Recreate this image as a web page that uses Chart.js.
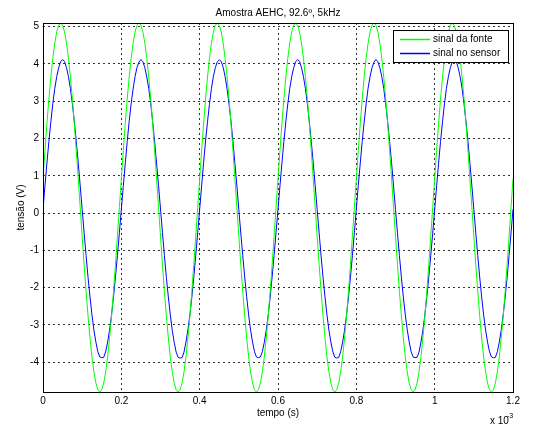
<!DOCTYPE html>
<html><head><meta charset="utf-8">
<script src="https://cdn.jsdelivr.net/npm/chart.js@4.4.1/dist/chart.umd.min.js"></script>
<style>html,body{margin:0;padding:0;background:#fff;}#wrap{width:533px;height:427px;}</style>
</head><body><div id="wrap"><canvas id="c" width="533" height="427"></canvas></div>
<script>
const chartTitle = 'Amostra AEHC, 92.6º, 5kHz';
const xLabel = 'tempo (s)';
const yLabel = 'tensão (V)';
const xMultiplier = 'x 10';
const xExponent = '-3';
const sampleStep = 0.005; // ms between samples
const xTicks = [0, 0.2, 0.4, 0.6, 0.8, 1.0, 1.2];
const yTicks = [-4, -3, -2, -1, 0, 1, 2, 3, 4, 5];
const seriesNames = ['sinal da fonte', 'sinal no sensor'];

const sinalFonte = [
 0.92,1.68,2.40,3.06,3.65,4.15,4.56,4.86,5.04,5.10,5.04,4.86,4.56,4.15,3.65,3.06,2.40,1.68,0.92,0.15,
 -0.62,-1.38,-2.10,-2.76,-3.35,-3.86,-4.26,-4.56,-4.74,-4.80,-4.74,-4.56,-4.26,-3.86,-3.35,-2.76,-2.10,-1.38,-0.62,0.15,
 0.92,1.68,2.40,3.06,3.65,4.15,4.56,4.86,5.04,5.10,5.04,4.86,4.56,4.15,3.65,3.06,2.40,1.68,0.92,0.15,
 -0.62,-1.38,-2.10,-2.76,-3.35,-3.86,-4.26,-4.56,-4.74,-4.80,-4.74,-4.56,-4.26,-3.86,-3.35,-2.76,-2.10,-1.38,-0.62,0.15,
 0.92,1.68,2.40,3.06,3.65,4.15,4.56,4.86,5.04,5.10,5.04,4.86,4.56,4.15,3.65,3.06,2.40,1.68,0.92,0.15,
 -0.62,-1.38,-2.10,-2.76,-3.35,-3.86,-4.26,-4.56,-4.74,-4.80,-4.74,-4.56,-4.26,-3.86,-3.35,-2.76,-2.10,-1.38,-0.62,0.15,
 0.92,1.68,2.40,3.06,3.65,4.15,4.56,4.86,5.04,5.10,5.04,4.86,4.56,4.15,3.65,3.06,2.40,1.68,0.92,0.15,
 -0.62,-1.38,-2.10,-2.76,-3.35,-3.86,-4.26,-4.56,-4.74,-4.80,-4.74,-4.56,-4.26,-3.86,-3.35,-2.76,-2.10,-1.38,-0.62,0.15,
 0.92,1.68,2.40,3.06,3.65,4.15,4.56,4.86,5.04,5.10,5.04,4.86,4.56,4.15,3.65,3.06,2.40,1.68,0.92,0.15,
 -0.62,-1.38,-2.10,-2.76,-3.35,-3.86,-4.26,-4.56,-4.74,-4.80,-4.74,-4.56,-4.26,-3.86,-3.35,-2.76,-2.10,-1.38,-0.62,0.15,
 0.92,1.68,2.40,3.06,3.65,4.15,4.56,4.86,5.04,5.10,5.04,4.86,4.56,4.15,3.65,3.06,2.40,1.68,0.92,0.15,
 -0.62,-1.38,-2.10,-2.76,-3.35,-3.86,-4.26,-4.56,-4.74,-4.80,-4.74,-4.56,-4.26,-3.86,-3.35,-2.76,-2.10,-1.38,-0.62,0.15,
 0.92
];

const sinalSensor = [
 0.10,0.73,1.34,1.92,2.45,2.93,3.34,3.66,3.90,4.06,4.12,4.07,3.90,3.66,3.34,2.93,2.45,1.92,1.34,0.73,
 0.10,-0.53,-1.14,-1.72,-2.25,-2.73,-3.14,-3.46,-3.72,-3.86,-3.88,-3.87,-3.72,-3.46,-3.14,-2.73,-2.25,-1.72,-1.14,-0.53,
 0.10,0.72,1.33,1.92,2.46,2.93,3.33,3.66,3.91,4.05,4.12,4.06,3.90,3.65,3.34,2.94,2.45,1.91,1.34,0.74,
 0.11,-0.52,-1.14,-1.73,-2.25,-2.72,-3.15,-3.47,-3.73,-3.87,-3.89,-3.88,-3.73,-3.46,-3.13,-2.73,-2.26,-1.72,-1.13,-0.53,
 0.10,0.73,1.35,1.93,2.45,2.92,3.34,3.67,3.90,4.06,4.11,4.07,3.91,3.66,3.33,2.93,2.46,1.92,1.33,0.73,
 0.09,-0.54,-1.14,-1.72,-2.24,-2.73,-3.14,-3.46,-3.72,-3.86,-3.88,-3.86,-3.72,-3.47,-3.14,-2.74,-2.25,-1.71,-1.14,-0.52,
 0.10,0.73,1.34,1.92,2.45,2.93,3.34,3.66,3.90,4.06,4.12,4.07,3.90,3.66,3.34,2.93,2.45,1.92,1.34,0.73,
 0.10,-0.53,-1.15,-1.72,-2.25,-2.73,-3.14,-3.46,-3.72,-3.87,-3.89,-3.87,-3.72,-3.46,-3.14,-2.73,-2.25,-1.72,-1.14,-0.53,
 0.11,0.74,1.34,1.92,2.44,2.93,3.35,3.66,3.90,4.05,4.12,4.06,3.90,3.66,3.34,2.92,2.45,1.92,1.35,0.73,
 0.10,-0.53,-1.14,-1.72,-2.25,-2.73,-3.13,-3.46,-3.72,-3.86,-3.88,-3.87,-3.73,-3.46,-3.14,-2.73,-2.24,-1.72,-1.14,-0.54,
 0.10,0.73,1.34,1.92,2.45,2.93,3.34,3.66,3.90,4.06,4.12,4.07,3.90,3.66,3.34,2.93,2.45,1.92,1.34,0.73,
 0.10,-0.53,-1.14,-1.72,-2.25,-2.73,-3.14,-3.46,-3.72,-3.86,-3.88,-3.87,-3.72,-3.46,-3.14,-2.73,-2.25,-1.72,-1.14,-0.53,
 0.10
];

const tempo = sinalFonte.map((_, i) => Math.round(i * sampleStep * 1000) / 1000);
const seriesColors = ['#00ff00', '#0000ff'];
const FONT = '"Liberation Sans", Arial, Helvetica, sans-serif';

const framePlugin = {
  id: 'frame',
  afterDatasetsDraw(chart) {
    const ctx = chart.ctx, a = chart.chartArea;
    ctx.save();
    ctx.strokeStyle = '#000';
    ctx.lineWidth = 1;
    ctx.setLineDash([]);
    ctx.strokeRect(Math.round(a.left) + 0.5, Math.round(a.top) + 0.5,
                   Math.round(a.right - a.left), Math.round(a.bottom - a.top));
    // legend
    const lx = 393.5, ly = 30.5, lw = 115, lh = 32;
    ctx.fillStyle = '#fff';
    ctx.fillRect(lx, ly, lw, lh);
    ctx.strokeRect(lx, ly, lw, lh);
    ctx.font = '10px ' + FONT;
    ctx.textBaseline = 'middle';
    ctx.textAlign = 'left';
    seriesNames.forEach((n, i) => {
      const y = 39.5 + i * 14;
      ctx.save();
      ctx.setLineDash([]);
      ctx.globalAlpha = 1;
      ctx.lineWidth = 1.5;
      ctx.strokeStyle = seriesColors[i];
      ctx.beginPath(); ctx.moveTo(400, y); ctx.lineTo(430, y); ctx.stroke();
      ctx.restore();
      ctx.fillStyle = '#000';
      ctx.fillText(n, 433, y);
    });
    ctx.restore();
  },
  afterDraw(chart) {
    const ctx = chart.ctx, a = chart.chartArea;
    const cx = (a.left + a.right) / 2;
    ctx.save();
    ctx.fillStyle = '#000';
    ctx.font = '10px ' + FONT;
    ctx.textAlign = 'center';
    ctx.textBaseline = 'middle';
    ctx.fillText(chartTitle, cx, 13);
    ctx.fillText(xLabel, cx, 413.5);
    ctx.textAlign = 'left';
    ctx.fillText(xMultiplier, 490, 421);
    ctx.font = '7px ' + FONT;
    ctx.fillText(xExponent, 507, 416);
    ctx.font = '10px ' + FONT;
    ctx.translate(21, (a.top + a.bottom) / 2);
    ctx.rotate(-Math.PI / 2);
    ctx.textAlign = 'center';
    ctx.fillText(yLabel, 0, 0);
    ctx.restore();
  }
};

new Chart(document.getElementById('c'), {
  type: 'line',
  data: {
    datasets: [
      { label: seriesNames[0], data: tempo.map((t, i) => ({ x: t, y: sinalFonte[i] })),
        borderColor: seriesColors[0], borderWidth: 1, pointRadius: 0, tension: 0, fill: false },
      { label: seriesNames[1], data: tempo.map((t, i) => ({ x: t, y: sinalSensor[i] })),
        borderColor: seriesColors[1], borderWidth: 1, pointRadius: 0, tension: 0, fill: false }
    ]
  },
  options: {
    responsive: false,
    animation: false,
    devicePixelRatio: 1,
    layout: { padding: { left: 0, right: 20, top: 23, bottom: 0 } },
    plugins: { legend: { display: false }, tooltip: { enabled: false }, title: { display: false } },
    scales: {
      x: {
        type: 'linear', min: 0, max: 1.2,
        afterBuildTicks: s => { s.ticks = xTicks.map(v => ({ value: v })); },
        afterFit: s => { s.height = 35; },
        ticks: { autoSkip: false, maxRotation: 0, padding: 3, color: '#000',
                 font: { family: FONT, size: 10 },
                 callback: v => (Number.isInteger(v) ? String(v) : v.toFixed(1)) },
        grid: { color: '#333', lineWidth: 1, drawTicks: false },
        border: { display: false, dash: [2, 3] }
      },
      y: {
        type: 'linear', min: -4.8, max: 5.1,
        afterBuildTicks: s => { s.ticks = yTicks.map(v => ({ value: v })); },
        afterFit: s => { s.width = 43; },
        ticks: { autoSkip: false, padding: 4, color: '#000',
                 font: { family: FONT, size: 10 },
                 callback: v => String(v) },
        grid: { color: '#333', lineWidth: 1, drawTicks: false },
        border: { display: false, dash: [2, 3] }
      }
    }
  },
  plugins: [framePlugin]
});
</script></body></html>
